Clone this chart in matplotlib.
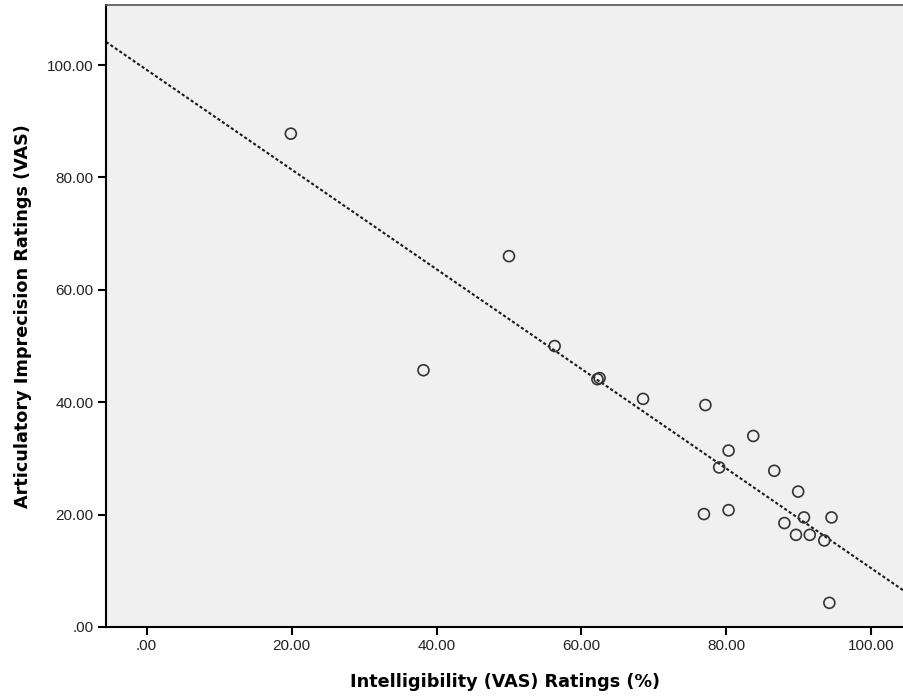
import numpy as np
import matplotlib
matplotlib.use("Agg")
import matplotlib.pyplot as plt
from matplotlib.ticker import FuncFormatter

plt.rcParams['font.family'] = ['Liberation Sans', 'DejaVu Sans']

# Intelligibility (VAS) vs articulatory imprecision
intelligibility = [19.9, 50.0, 38.2, 56.3, 62.2, 62.5, 68.5, 77.1, 83.7, 80.3, 79.0,
                   86.6, 89.9, 76.9, 80.3, 90.7, 94.5, 88.0, 89.6, 91.5, 93.5, 94.2]
imprecision = [87.8, 66.0, 45.7, 50.0, 44.1, 44.3, 40.6, 39.5, 34.0, 31.4, 28.4,
               27.8, 24.1, 20.1, 20.8, 19.5, 19.5, 18.5, 16.4, 16.4, 15.4, 4.3]
x_ticks = [0, 20, 40, 60, 80, 100]
y_ticks = [0, 20, 40, 60, 80, 100]


def spss_fmt(v, pos):
    s = "%.2f" % v
    return s[1:] if s.startswith("0") else s


fig = plt.figure(figsize=(9.04, 6.98), dpi=100)
ax = fig.add_axes([106 / 904, 1 - 627 / 698, 1 - 106 / 904, 622 / 698])
ax.set_facecolor("#f0f0f0")

xlim = (-5.6, 104.5)
ylim = (0, 110.7)

# linear fit line across the whole plot
slope, icpt = np.polyfit(intelligibility, imprecision, 1)
xs = np.array(xlim)
ax.plot(xs, slope * xs + icpt, color="#1a1a1a", lw=1.5, linestyle=(0, (1.5, 1.1)))

ax.scatter(intelligibility, imprecision, s=62, facecolors="none",
           edgecolors="#333333", linewidths=1.2, zorder=3)

ax.set_xlim(*xlim)
ax.set_ylim(*ylim)
ax.set_xticks(x_ticks)
ax.set_yticks(y_ticks)
ax.xaxis.set_major_formatter(FuncFormatter(spss_fmt))
ax.yaxis.set_major_formatter(FuncFormatter(spss_fmt))
ax.tick_params(direction="out", length=6, width=1.5, labelsize=11,
               colors="black", pad=3)
for lbl in ax.get_xticklabels() + ax.get_yticklabels():
    lbl.set_color("#222222")

ax.spines["right"].set_visible(False)
ax.spines["left"].set_linewidth(1.5)
ax.spines["bottom"].set_linewidth(1.5)
ax.spines["top"].set_linewidth(1.2)
ax.spines["top"].set_color("#555555")

lab_font = dict(family="DejaVu Sans", fontsize=12.7, fontweight="bold")
ax.set_xlabel("Intelligibility (VAS) Ratings (%)", labelpad=14, **lab_font)
ax.set_ylabel("Articulatory Imprecision Ratings (VAS)", labelpad=11, **lab_font)

plt.savefig("out.png", dpi=100)
